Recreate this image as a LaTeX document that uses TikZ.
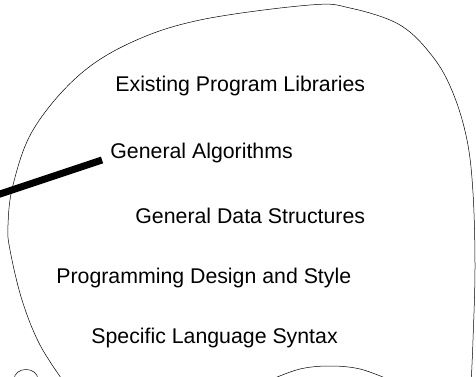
\documentclass[tikz,border=0pt]{standalone}
\usepackage{fontspec}
\setmainfont{Liberation Sans}
\usetikzlibrary{calc}

\begin{document}
\begin{tikzpicture}[x=1pt,y=-1pt,thick]
    % `topic' is used for the labels inside the blob.
    % `pointer' is the heavy stroke running in from the left.
    % `outline' is used for the thin hand-drawn curves.
    \tikzstyle{topic} = [inner sep=0pt,anchor=base west,font=\fontsize{21.3}{25}\selectfont]
    \tikzstyle{pointer} = [line width=7pt]
    \tikzstyle{outline} = [line width=0.5pt]
    %
    \useasboundingbox (0,0) rectangle (476,377);
    \clip (0,0) rectangle (476,377);
    %
    \node[topic] (libs) at (115,92)  {Existing Program Libraries};
    \node[topic] (alg)  at (110,158) {General Algorithms};
    \node[topic] (data) at (135,223) {General Data Structures};
    \node[topic] (design) at (56,283) {Programming Design and Style};
    \node[topic] (syntax) at (91,343) {Specific Language Syntax};
    %
    % Draw the blob and the other curve pieces.
    \draw[outline] plot[smooth,tension=0.6] coordinates {
      (66,385) (40,345) (22,300) (10,250) (8,225) (13,185) (33,130)
      (77,77) (130,43) (200,20) (310,5) (350,8) (400,25) (433,57)
      (453,93) (467,140) (473,193) (475,267) (473,340) (471,385)};
    \draw[outline] plot[smooth,tension=0.6] coordinates {
      (270,380) (300,369) (330,366) (360,369) (390,380)};
    \draw[outline] (14,380) .. controls (14,366) and (38,366) .. (38,380);
    %
    % Draw the heavy stroke.
    \coordinate (tail) at (-6,196);
    \draw[pointer] (tail) -- ($(alg.base west)+(-8,2)$);
\end{tikzpicture}
\end{document}
